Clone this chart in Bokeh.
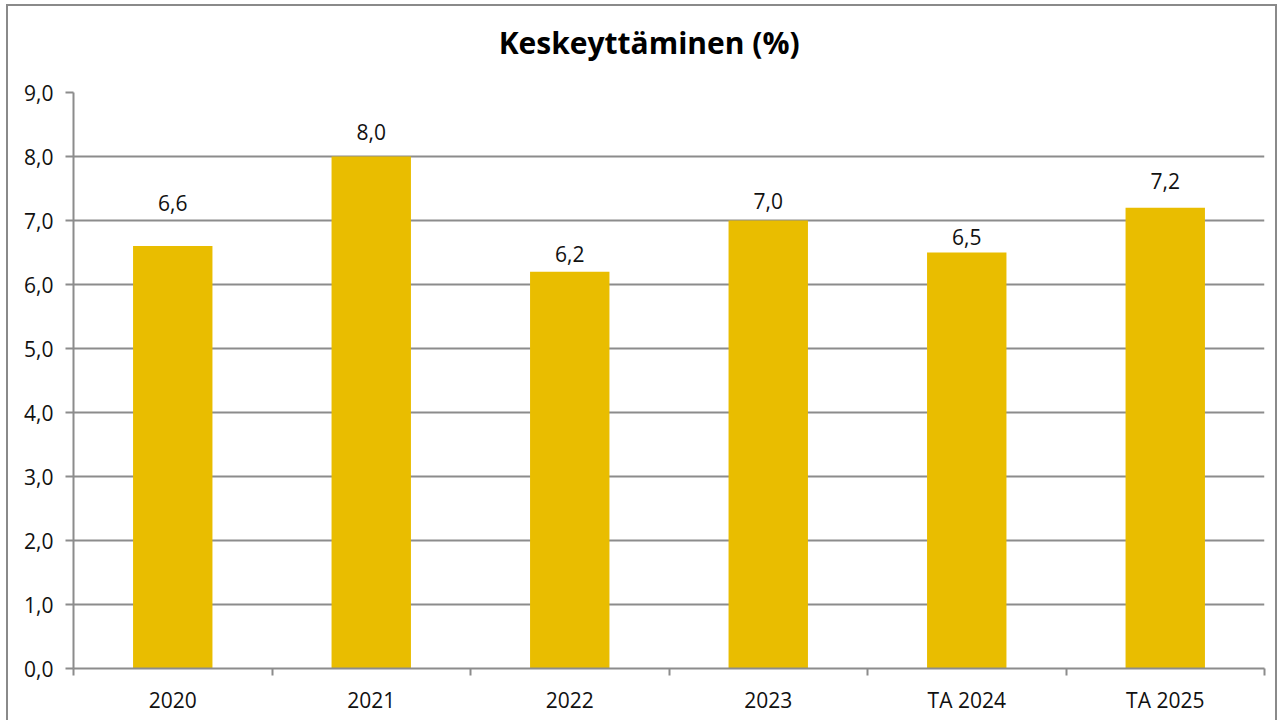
from bokeh.plotting import figure
from bokeh.models import ColumnDataSource, Range1d, FixedTicker, LinearAxis
from bokeh.core.properties import value
from bokeh.embed import file_html
from bokeh.resources import INLINE

title_text = "Keskeyttäminen (%)"
categories = ["2020", "2021", "2022", "2023", "TA 2024", "TA 2025"]
values = [6.6, 8.0, 6.2, 7.0, 6.5, 7.2]
labels = ["6,6", "8,0", "6,2", "7,0", "6,5", "7,2"]
y_ticks = [0, 1, 2, 3, 4, 5, 6, 7, 8, 9]
y_tick_labels = ["0,0", "1,0", "2,0", "3,0", "4,0", "5,0", "6,0", "7,0", "8,0", "9,0"]

# style: gap in px between bar top and its label (labels were hand-placed in the original)
label_gap = [36, 18, 11, 13, 9, 20]
GAP_FIX = 7
TITLE_X = 2.9  # horizontal centre of the title, in x units (chart is centred on the whole box)

FONT = "Open Sans"
GRID = "#8c8c8c"
BAR = "#E9BD00"
TXT = "#111111"

xpos = [i + 0.5 for i in range(len(categories))]

src = ColumnDataSource(dict(
    x=xpos, top=values, lab=labels, dy=[-(g + GAP_FIX) for g in label_gap],
))

p = figure(
    width=1271, height=716,
    x_range=Range1d(0, len(categories)), y_range=Range1d(0, 9),
    output_backend="svg", toolbar_location=None,
    min_border_left=65, min_border_right=15, min_border_top=86, min_border_bottom=54,
)
p.styles = {"border-top": "2px solid #8a8a8a", "border-left": "2px solid #8a8a8a",
            "border-right": "2px solid #8a8a8a", "box-sizing": "border-box",
            "margin-left": "6px", "margin-top": "4px"}

# chart title, drawn as the single label of an axis above the plot
title_axis = LinearAxis(
    ticker=FixedTicker(ticks=[TITLE_X]),
    major_label_overrides={TITLE_X: title_text},
    axis_line_color=None, major_tick_line_color=None, minor_tick_line_color=None,
    major_tick_out=0, major_tick_in=0,
    major_label_standoff=30,
    major_label_text_font=FONT, major_label_text_font_size="30px",
    major_label_text_font_style="bold", major_label_text_color="#000000",
)
p.add_layout(title_axis, "above")

p.outline_line_color = None
p.background_fill_color = "white"
p.border_fill_color = "white"

p.vbar(x="x", top="top", width=0.4, bottom=0, source=src,
       fill_color=BAR, line_color=None)

p.text(x="x", y="top", text="lab", source=src, y_offset="dy",
       text_align="center", text_baseline="alphabetic",
       text_font=value(FONT), text_font_size="21px", text_color=TXT)

# y axis
yax = p.yaxis[0]
yax.ticker = FixedTicker(ticks=y_ticks)
yax.major_label_overrides = {t: l for t, l in zip(y_ticks, y_tick_labels)}
yax.axis_line_color = GRID
yax.axis_line_width = 2
yax.major_tick_line_color = GRID
yax.major_tick_line_width = 2
yax.major_tick_out = 8
yax.major_tick_in = 0
yax.minor_tick_line_color = None
yax.major_label_text_font = FONT
yax.major_label_text_font_size = "21px"
yax.major_label_text_color = TXT
yax.major_label_standoff = 12

# x axis: labels at centers, ticks at boundaries
xax = p.below[0]
xax.ticker = FixedTicker(ticks=xpos, minor_ticks=list(range(len(categories) + 1)))
xax.major_label_overrides = {x: c for x, c in zip(xpos, categories)}
xax.axis_line_color = GRID
xax.axis_line_width = 2
xax.major_tick_line_color = None
xax.minor_tick_line_color = GRID
xax.minor_tick_line_width = 2
xax.minor_tick_out = 7
xax.minor_tick_in = 0
xax.major_label_text_font = FONT
xax.major_label_text_font_size = "21px"
xax.major_label_text_color = TXT
xax.major_label_standoff = 10

p.xgrid.grid_line_color = None
p.ygrid.ticker = FixedTicker(ticks=y_ticks[1:])
p.ygrid.grid_line_color = GRID
p.ygrid.grid_line_width = 2

open("out.html", "w").write(file_html(p, INLINE))
